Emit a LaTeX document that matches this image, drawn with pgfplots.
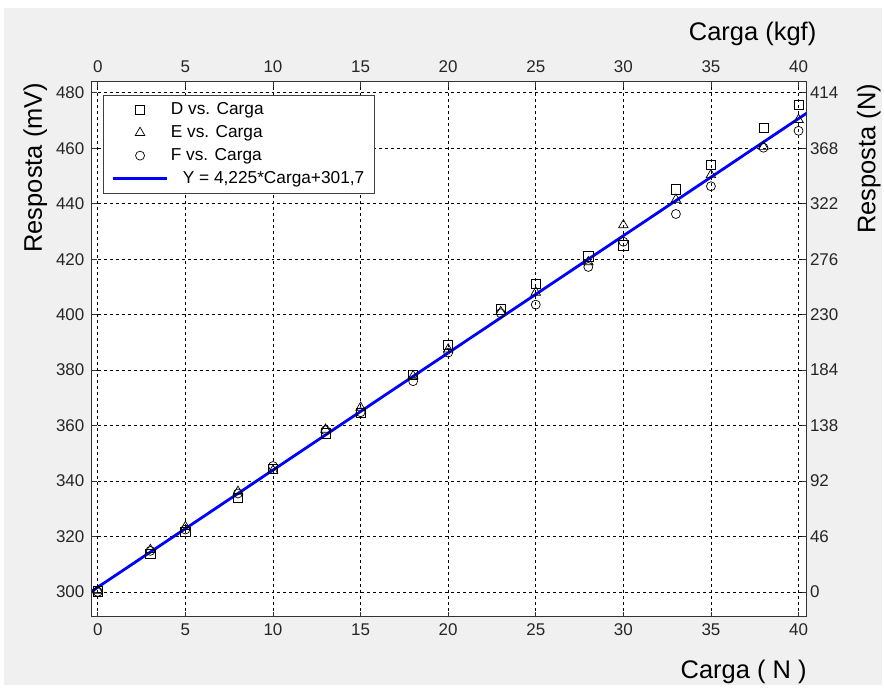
\documentclass[border=0pt]{standalone}
\usepackage{fontspec}
\setmainfont{Liberation Sans}
\usepackage{pgfplots}
\usepackage{pgfplotstable}
\pgfplotsset{compat=1.18}
\definecolor{bgc}{RGB}{240,240,240}
\definecolor{fitblue}{RGB}{0,0,255}
\pgfplotsset{
  markleg/.style={legend image code/.code={\path (0pt,0pt) (55pt,0pt); \draw[##1] plot coordinates {(27.5pt,0pt)};}},
  lineleg/.style={legend image code/.code={\draw[##1] (0pt,0pt) -- (55pt,0pt);}},
}
\pgfplotstableread{
x D E F
0 300.2 300.5 300.0
3 313.8 315.2 314.8
5 321.8 323.5 322.5
8 334.0 336.2 335.5
10 344.3 343.8 345.4
13 357.2 358.6 358.3
15 364.5 366.5 364.8
18 378.3 377.9 376.0
20 389.2 387.5 386.3
23 401.9 401.0 400.5
25 411.0 408.0 403.6
28 421.0 419.0 417.2
30 425.0 432.3 426.3
33 445.2 441.5 436.3
35 454.0 450.4 446.3
38 467.3 460.6 460.2
40 475.6 470.3 466.3
}\datatable
\begin{document}
\begin{tikzpicture}[x=1pt,y=1pt]
\fill[white] (0,0) rectangle (884,686);
\fill[bgc] (4,0) rectangle (884,678);
\begin{axis}[
  at={(92pt,68pt)}, anchor=south west,
  scale only axis, width=716pt, height=536pt,
  xmin=-0.342, xmax=40.456, ymin=291, ymax=483.96,
  xtick={0,5,...,40}, ytick={300,320,...,480},
  tick pos=both, xticklabel pos=lower, yticklabel pos=left,
  tick align=inside, major tick length=5pt,
  grid=major, grid style={black, line width=0.7pt, dash pattern=on 3pt off 3pt},
  axis line style={black!80, line width=1pt},
  tick style={black!80, line width=0.8pt},
  ticklabel style={font=\fontsize{17}{20}\selectfont, text=black!85},
  /pgf/number format/assume math mode=true,
  xticklabel style={yshift=-3pt},
  yticklabel style={xshift=-4pt},
  axis background/.style={fill=white},
  legend cell align=left,
  legend style={at={(axis description cs:0.01536,0.9757)}, anchor=north west,
    draw=black!75, line width=0.8pt, fill=white, inner xsep=8pt, inner ysep=4pt,
    row sep=2pt, font=\fontsize{17.3}{20}\selectfont,
    nodes={inner sep=2pt, text height=13pt, text depth=4pt}},
]
\addplot[only marks, mark=square, mark size=4.6pt, mark options={black, line width=0.7pt}, markleg]
  table[x=x, y=D] {\datatable};
\addlegendentry{D vs. Carga}
\addplot[only marks, mark=triangle, mark size=5.5pt, mark options={black, line width=0.7pt}, markleg]
  table[x=x, y=E] {\datatable};
\addlegendentry{E vs. Carga}
\addplot[only marks, mark=o, mark size=4.5pt, mark options={black, line width=0.7pt}, markleg]
  table[x=x, y=F] {\datatable};
\addlegendentry{F vs. Carga}
\addplot[fitblue, line width=2.8pt, lineleg]
  coordinates {(-0.342,300.255) (40.456,472.63)};
\addlegendentry{\hspace{12pt}Y = 4,225*Carga+301,7}
\end{axis}
\begin{axis}[
  at={(92pt,68pt)}, anchor=south west,
  scale only axis, width=716pt, height=536pt,
  xmin=-0.342, xmax=40.456, ymin=291, ymax=483.96,
  xtick={0,5,...,40}, ytick={300,320,...,480},
  yticklabels={0,46,92,138,184,230,276,322,368,414},
  xticklabel pos=upper, yticklabel pos=right,
  major tick length=0pt,
  axis line style={draw=none}, tick style={draw=none},
  ticklabel style={font=\fontsize{17}{20}\selectfont, text=black!85},
  /pgf/number format/assume math mode=true,
  xticklabel style={yshift=6pt},
]
\addplot[draw=none] coordinates {(0,300) (40,480)};
\end{axis}
\node[anchor=base, font=\fontsize{25.5}{30}\selectfont] at (745,6) {Carga ( N )};
\node[anchor=base, font=\fontsize{25.5}{30}\selectfont] at (754,645) {Carga (kgf)};
\node[anchor=base, rotate=90, font=\fontsize{25.5}{30}\selectfont] at (42,518) {Resposta (mV)};
\node[anchor=base, rotate=90, font=\fontsize{25.5}{30}\selectfont] at (877,527) {Resposta (N)};
\end{tikzpicture}
\end{document}
